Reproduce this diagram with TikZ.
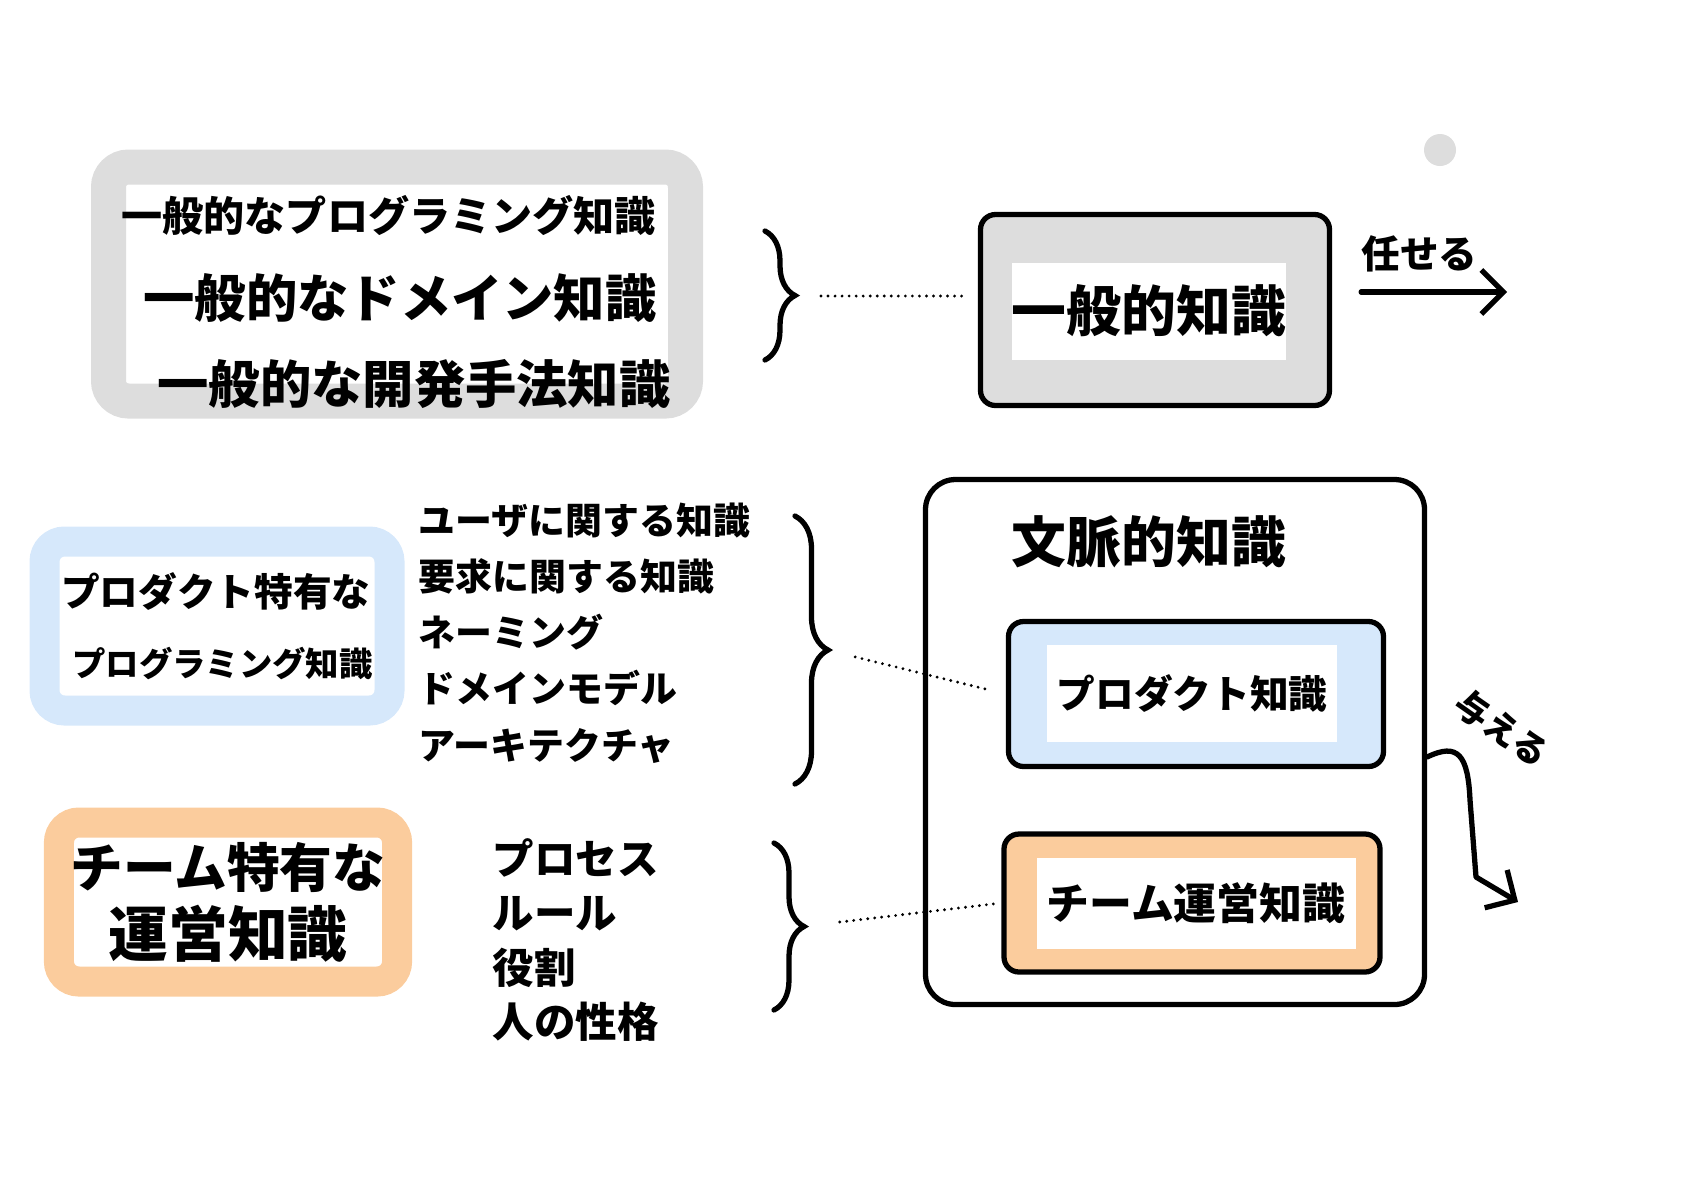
\documentclass[tikz,border=0pt]{standalone}
\usepackage{fontspec}
\newfontfamily\jp{Noto Sans CJK JP}
\usetikzlibrary{arrows.meta, decorations.pathreplacing, positioning}
\definecolor{softgray}{RGB}{221,221,221}
\definecolor{softblue}{RGB}{214,232,251}
\definecolor{softorange}{RGB}{251,204,157}
\newcommand{\setsz}[1]{\fontsize{#1}{#1}\selectfont}

\begin{document}
\begin{tikzpicture}[x=0.1mm, y=-0.1mm,
    band/.style={draw=#1, line width=3.2mm, fill=white, rounded corners=2mm, align=left},
    frame/.style={draw=black, fill=#1, line width=1.5pt, rounded corners=1.5mm},
    inset/.style={fill=white, inner sep=0pt, align=center},
    note/.style={align=left, anchor=west, inner sep=0pt},
    curly/.style={decorate, decoration={brace, amplitude=3mm}, line width=1.5pt, line cap=round},
    linker/.style={line width=0.9pt, line cap=round, dash pattern=on 0pt off 2pt},
    arrow/.style={-{Straight Barb[length=2.2mm, width=4.4mm]}, line width=1.5pt, line cap=round, line join=round}
]
    \useasboundingbox (0,0) rectangle (1684,1190);
    \fill[softgray] (1440,150) circle (1.6mm);

    % left column
    \node[band=softgray, line width=3.5mm, minimum width=57.7mm, minimum height=23.4mm] (general) at (397,284) {};
    \node[note, anchor=center, font=\jp\bfseries\fontsize{13}{24.5}\selectfont] (generaltext) at (396,302)
        {{\setsz{11.7}一般的なプログラミング知識}\\
         \hspace*{2.2mm}{\setsz{14.6}一般的なドメイン知識}\\
         \hspace*{3.6mm}{\setsz{14.6}一般的な開発手法知識}};
    \node[band=softblue, line width=3mm, minimum width=34.5mm, minimum height=16.9mm,
        font=\jp\bfseries\fontsize{11}{20}\selectfont] (prodspec) at (217,626)
        {プロダクト特有な\\\hspace*{1.1mm}{\setsz{9.5}プログラミング知識}};
    \node[band=softorange, line width=3mm, minimum width=33.3mm, minimum height=15.9mm, align=center,
        font=\jp\bfseries\fontsize{15}{19.6}\selectfont] (teamspec) at (228,902)
        {チーム特有な\\{\setsz{17}運営知識}};

    % lists
    \node[note, font=\jp\bfseries\fontsize{10.5}{16}\selectfont] (userlist) at (418,633)
        {ユーザに関する知識\\要求に関する知識\\ネーミング\\ドメインモデル\\アーキテクチャ};
    \node[note, font=\jp\bfseries\fontsize{11.8}{15.4}\selectfont] (teamlist) at (492,940)
        {プロセス\\ルール\\役割\\人の性格};

    % braces
    \coordinate (b1top) at (765,231);
    \coordinate (b1bot) at (765,360);
    \coordinate (b1tip) at (795,296);
    \coordinate (b2top) at (795,516);
    \coordinate (b2bot) at (795,784);
    \coordinate (b2tip) at (827,650);
    \coordinate (b3top) at (774,843);
    \coordinate (b3bot) at (774,1010);
    \coordinate (b3tip) at (806,926);
    \draw[curly] (b1top) -- (b1bot);
    \draw[curly, decoration={amplitude=3.3mm}] (b2top) -- (b2bot);
    \draw[curly] (b3top) -- (b3bot);

    % right column
    \node[frame=softgray, minimum width=34.9mm, minimum height=19.1mm] (known) at (1155,310) {};
    \node[inset, minimum width=26.8mm, minimum height=9.7mm,
        font=\jp\bfseries\fontsize{15.6}{18}\selectfont] (knowntext) at (1149,311) {一般的知識};

    \node[draw=black, line width=1.5pt, rounded corners=3mm,
        minimum width=49.9mm, minimum height=52.5mm] (ctx) at (1175,742) {};
    \node[font=\jp\bfseries\fontsize{15.6}{18}\selectfont] (ctxlabel) at (1149,542) {文脈的知識};

    \node[frame=softblue, minimum width=37.5mm, minimum height=14.5mm] (prod) at (1196,694) {};
    \node[inset, minimum width=29mm, minimum height=9.7mm,
        font=\jp\bfseries\fontsize{11}{14}\selectfont] (prodtext) at (1192,693) {プロダクト知識};

    \node[frame=softorange, minimum width=37.6mm, minimum height=13.8mm] (team) at (1192,903) {};
    \node[inset, minimum width=31.9mm, minimum height=9.1mm,
        font=\jp\bfseries\fontsize{12.2}{15}\selectfont] (teamtext) at (1196,903) {チーム運営知識};

    % dotted links
    \draw[linker, shorten <=2.6mm, shorten >=1.4mm] (b1tip) -- (b1tip -| known.west);
    \draw[linker, shorten <=2.9mm, shorten >=1.5mm] (b2tip) -- (prod.west);
    \draw[linker, shorten <=3.4mm, shorten >=0.3mm] (b3tip) -- (team.west);

    % arrows
    \coordinate (delegate) at (1507,292);
    \draw[arrow, shorten <=2.9mm] (known.east |- delegate) --
        node[above=0.6mm, font=\jp\bfseries\fontsize{11}{13}\selectfont] (delegatelabel) {任せる} (delegate);
    \coordinate (give) at (1518,902);
    \draw[arrow] ([yshift=-1.5mm]ctx.east) .. controls (1458,742) and (1468,755) .. (1470,800)
        -- (1476,877) -- (give);
    \node[rotate=-35, inner sep=0pt, font=\jp\bfseries\fontsize{10}{12}\selectfont] (givelabel) at (1502,728) {与える};
\end{tikzpicture}
\end{document}
